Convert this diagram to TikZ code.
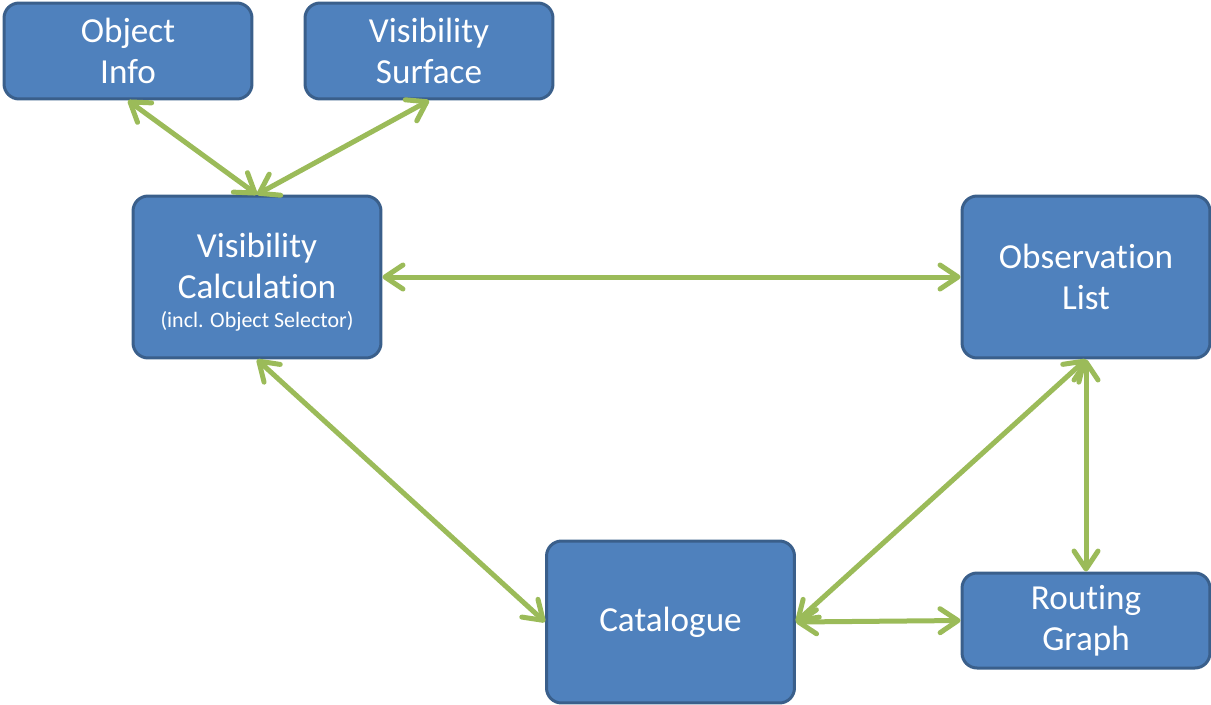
\documentclass[tikz,border=0pt]{standalone}
\usepackage{fontspec}
\setmainfont{Carlito}[RawFeature=-liga]
\usepackage{tikz}
\usetikzlibrary{arrows.meta}
\definecolor{boxfill}{HTML}{4F81BD}
\definecolor{boxline}{HTML}{3A5F8B}
\definecolor{linkgreen}{HTML}{9BBB59}
\newcommand{\smalltext}[1]{{\fontsize{12.5}{14}\selectfont #1}}

\begin{document}
\begin{tikzpicture}[x=0.02cm, y=-0.02cm,
		block/.style={rectangle, rounded corners=0.3cm, fill=boxfill, draw=boxline, line width=0.06cm, text=white, align=center, minimum width=4.96cm, font=\fontsize{20}{23.5}\selectfont},
		flat/.style={block, minimum height=1.92cm},
		tall/.style={block, minimum height=3.24cm},
		link/.style={draw=linkgreen, line width=0.1cm, line cap=round, {Straight Barb[length=0.36cm, width=0.48cm, line cap=round, line join=round]}-{Straight Barb[length=0.36cm, width=0.48cm, line cap=round, line join=round]}}]
		%%%%% START %%%%%
		
		\useasboundingbox (0, 0) rectangle (1211, 704);
		
		\node[flat] (objinfo) at (128, 51) {Object\\Info};
		\node[flat] (vissurface) at (429, 51) {Visibility\\Surface};
		\node[tall] (viscalc) at (257, 277) {\rule{0pt}{20pt}Visibility\\Calculation\\[-7pt]\smalltext{(incl. Object Selector)}};
		\node[tall] (obslist) at (1086, 277) {Observation\\List};
		\node[tall] (catalogue) at (670.5, 622) {Catalogue};
		\node[flat, minimum height=1.9cm] (routing) at (1086, 620.5) {Routing\\Graph};
		
		\draw[link] (objinfo.south) -- (viscalc.north);
		\draw[link] (vissurface.south) -- (viscalc.north);
		\draw[link] (viscalc.east) -- (obslist.west);
		\draw[link] (viscalc.south) -- (catalogue.west);
		\draw[link] (obslist.south) -- (catalogue.east);
		\draw[link] (obslist.south) -- (routing.north);
		\draw[link] (catalogue.east) -- (routing.west);
		
		%%%%% END %%%%%
	\end{tikzpicture}
\end{document}
